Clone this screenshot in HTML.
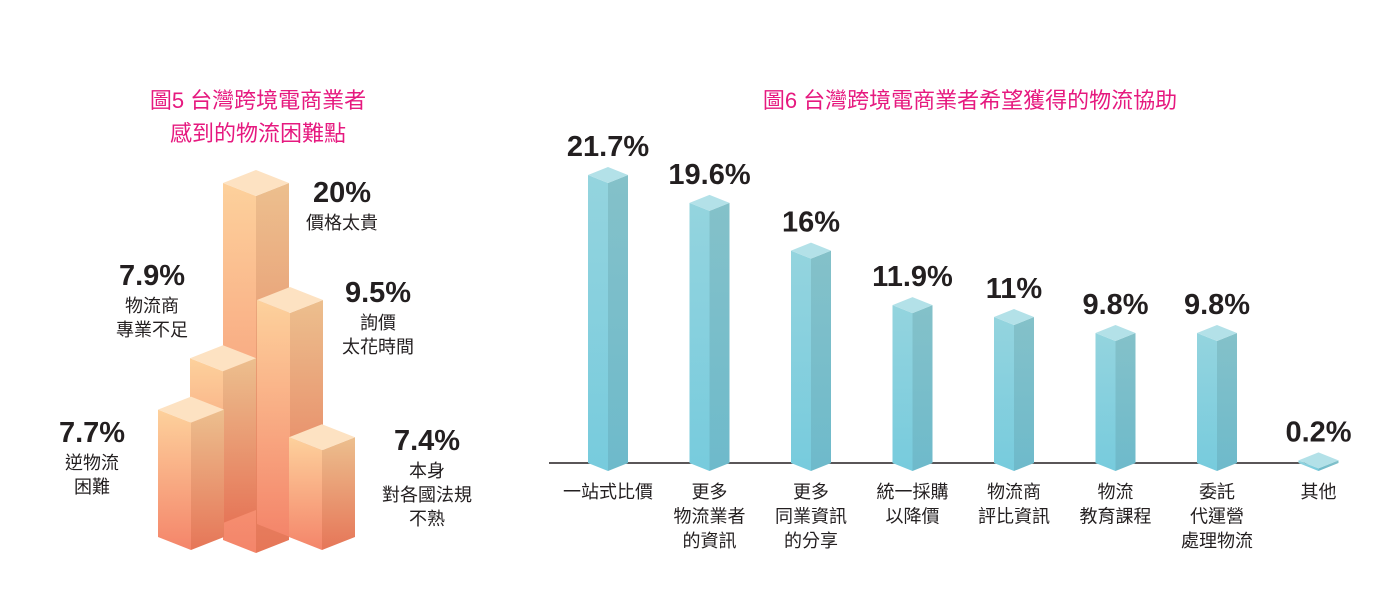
<!DOCTYPE html>
<html><head><meta charset="utf-8">
<style>
html,body{margin:0;padding:0;background:#fff;}
body{width:1392px;height:591px;overflow:hidden;}
svg text{font-family:"Liberation Sans","Noto Sans CJK TC",sans-serif;}
.t{fill:#e6197f;font-size:22px;}
.v{fill:#231f20;font-size:29px;font-weight:bold;}
.c{fill:#231f20;font-size:18px;}
</style></head>
<body>
<svg id="chart" width="1392" height="591" viewBox="0 0 1392 591">
<defs>
<linearGradient id="ol" x1="0" y1="0" x2="0" y2="1"><stop offset="0" stop-color="#fdd19c"/><stop offset="1" stop-color="#f4856a"/></linearGradient>
<linearGradient id="or" x1="0" y1="0" x2="0" y2="1"><stop offset="0" stop-color="#ecbf8e"/><stop offset="1" stop-color="#e67658"/></linearGradient>
<linearGradient id="bl" x1="0" y1="0" x2="0" y2="1"><stop offset="0" stop-color="#94d4de"/><stop offset="1" stop-color="#77cbdd"/></linearGradient>
<linearGradient id="br" x1="0" y1="0" x2="0" y2="1"><stop offset="0" stop-color="#84c1c9"/><stop offset="1" stop-color="#6ebacb"/></linearGradient>
</defs>
<g id="left">
<text class="t" x="258" y="108" text-anchor="middle">圖5 台灣跨境電商業者</text>
<text class="t" x="258" y="141" text-anchor="middle">感到的物流困難點</text>
</g>
<g id="right">
<text class="t" x="970" y="108" text-anchor="middle">圖6 台灣跨境電商業者希望獲得的物流協助</text>
<line x1="549" y1="463" x2="1320" y2="463" stroke="#231f20" stroke-width="1.5"/>
</g>
</svg>
<script>
// Figure 5 data
const f5Values = [20, 7.9, 9.5, 7.7, 7.4];
const f5ValueLabels = ["20%", "7.9%", "9.5%", "7.7%", "7.4%"];
const f5Categories = [["價格太貴"], ["物流商","專業不足"], ["詢價","太花時間"], ["逆物流","困難"], ["本身","對各國法規","不熟"]];
// Figure 6 data
const f6Categories = [["一站式比價"],["更多","物流業者","的資訊"],["更多","同業資訊","的分享"],["統一採購","以降價"],["物流商","評比資訊"],["物流","教育課程"],["委託","代運營","處理物流"],["其他"]];
const f6Values = [21.7, 19.6, 16, 11.9, 11, 9.8, 9.8, 0.2];
const f6ValueLabels = ["21.7%","19.6%","16%","11.9%","11%","9.8%","9.8%","0.2%"];

const NS = "http://www.w3.org/2000/svg";
function mk(tag, attrs, parent){const e=document.createElementNS(NS,tag);for(const k in attrs)e.setAttribute(k,attrs[k]);parent.appendChild(e);return e;}

// ---- Figure 5 (pictogram isometric columns) ----
const L = document.getElementById('left');
const k5 = 12; // px per percent
// layout: left x, floor anchor y, bottom-left y, label placement
const f5Layout = [
  {x:223, anchor:423, bottom:540, lx:342, ly:202, la:"middle"},
  {x:190, anchor:453, bottom:510, lx:152, ly:285, la:"middle"},
  {x:257, anchor:414, bottom:524, lx:378, ly:302, la:"middle"},
  {x:158, anchor:502, bottom:537, lx:92, ly:442, la:"middle"},
  {x:289, anchor:526, bottom:537, lx:427, ly:450, la:"middle"}
];
const hw=33, dy=13;
f5Values.forEach((v,i)=>{
  const p=f5Layout[i];
  const top=p.anchor - v*k5, bot=p.bottom;
  const g=mk('g',{},L);
  
  
  mk('polygon',{points:`${p.x},${top} ${p.x+hw},${top+dy} ${p.x+hw},${bot+dy} ${p.x},${bot}`,fill:'url(#ol)'},g);
  mk('polygon',{points:`${p.x+hw},${top+dy} ${p.x+2*hw},${top} ${p.x+2*hw},${bot} ${p.x+hw},${bot+dy}`,fill:'url(#or)'},g);
  mk('polygon',{points:`${p.x},${top} ${p.x+hw},${top-dy} ${p.x+2*hw},${top} ${p.x+hw},${top+dy}`,fill:'#fde2c2'},g);
  const vt=mk('text',{class:'v',x:p.lx,y:p.ly,'text-anchor':p.la},L);
  
  
  vt.textContent=f5ValueLabels[i];
  f5Categories[i].forEach((s,j)=>{
    const t=mk('text',{class:'c',x:p.lx,y:p.ly+27+j*24,'text-anchor':'middle'},L);
    
    
    t.textContent=s;
  });
});

// ---- Figure 6 ----
const R = document.getElementById('right');
const base=463, k6=13.27, bw=20, bdy=8;
const xC = i => 608 + i*101.5;
const yV = v => base - v*k6;
f6Values.forEach((v,i)=>{
  const cx=xC(i), top=yV(v);
  const g=mk('g',{},R);
  
  
  mk('polygon',{points:`${cx-bw},${top} ${cx},${top+bdy} ${cx},${base+bdy} ${cx-bw},${base}`,fill:'url(#bl)'},g);
  mk('polygon',{points:`${cx},${top+bdy} ${cx+bw},${top} ${cx+bw},${base} ${cx},${base+bdy}`,fill:'url(#br)'},g);
  mk('polygon',{points:`${cx-bw},${top} ${cx},${top-bdy} ${cx+bw},${top} ${cx},${top+bdy}`,fill:'#b3e1e8'},g);
  const vt=mk('text',{class:'v',x:cx,y:top-19,'text-anchor':'middle'},R);
  
  
  vt.textContent=f6ValueLabels[i];
  f6Categories[i].forEach((s,j)=>{
    const t=mk('text',{class:'c',x:cx,y:498+j*24.5,'text-anchor':'middle'},R);
    
    
    t.textContent=s;
  });
});
</script>
</body></html>
